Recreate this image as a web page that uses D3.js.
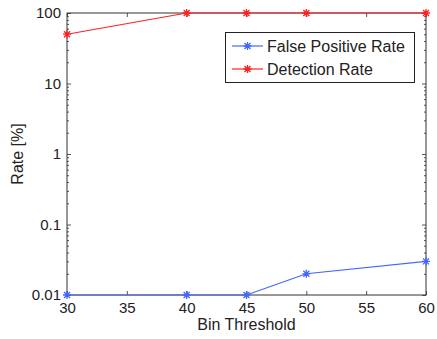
<!DOCTYPE html>
<html>
<head>
<meta charset="utf-8">
<script src="https://cdn.jsdelivr.net/npm/d3@7"></script>
<style>
  body { margin: 0; background: #fff; }
  text { font-family: "Liberation Sans", Arial, sans-serif; fill: #222; }
</style>
</head>
<body>
<div id="container"></div>
<script>
const thresholds = [30, 40, 45, 50, 60];
const falsePositiveRate = [0.01, 0.01, 0.01, 0.02, 0.03];
const detectionRate = [50, 100, 100, 100, 100];
const xTicks = [30, 35, 40, 45, 50, 55, 60];
const yTicks = [0.01, 0.1, 1, 10, 100];

const w = 437;
const h = 339;
const padL = 67, padR = 426, padT = 13, padB = 295;

const svg = d3.select("#container")
  .append("svg")
  .attr("width", w)
  .attr("height", h);

const xScale = d3.scaleLinear().domain([30, 60]).range([padL, padR]);
const yScale = d3.scaleLog().domain([0.01, 100]).range([padB, padT]);

// minor ticks for the log axis
const minor = [];
for (let p = -2; p < 2; p++) {
  for (let k = 2; k <= 9; k++) minor.push(k * Math.pow(10, p));
}

const fmt = (d) => String(d);

// axes, ticks drawn inward like matlab
svg.append("g")
  .attr("transform", "translate(0," + padB + ")")
  .call(d3.axisBottom(xScale).tickValues(xTicks).tickSize(-4).tickPadding(7).tickFormat(fmt))
  .call((g) => g.select(".domain").remove());
svg.append("g")
  .attr("transform", "translate(0," + padT + ")")
  .call(d3.axisTop(xScale).tickValues(xTicks).tickSize(-4).tickFormat(""))
  .call((g) => g.select(".domain").remove());
svg.append("g")
  .attr("transform", "translate(" + padL + ",0)")
  .call(d3.axisLeft(yScale).tickValues(yTicks).tickSize(-4).tickPadding(6).tickFormat(fmt))
  .call((g) => g.select(".domain").remove());
svg.append("g")
  .attr("transform", "translate(" + padR + ",0)")
  .call(d3.axisRight(yScale).tickValues(yTicks).tickSize(-4).tickFormat(""))
  .call((g) => g.select(".domain").remove());
svg.append("g")
  .attr("transform", "translate(" + padL + ",0)")
  .call(d3.axisLeft(yScale).tickValues(minor).tickSize(-2).tickFormat(""))
  .call((g) => g.select(".domain").remove());
svg.append("g")
  .attr("transform", "translate(" + padR + ",0)")
  .call(d3.axisRight(yScale).tickValues(minor).tickSize(-2).tickFormat(""))
  .call((g) => g.select(".domain").remove());

svg.selectAll(".tick text").style("font-size", "15px").attr("fill", "#222");
svg.selectAll(".tick line").attr("stroke", "#555");

svg.append("rect")
  .attr("x", padL).attr("y", padT)
  .attr("width", padR - padL).attr("height", padB - padT)
  .attr("fill", "none").attr("stroke", "#333").attr("stroke-width", 1);

const series = [
  { name: "False Positive Rate", values: falsePositiveRate, color: "#4466ff" },
  { name: "Detection Rate", values: detectionRate, color: "#ff2020" }
];

const line = d3.line()
  .x((d) => xScale(d[0]))
  .y((d) => yScale(d[1]));

function star(g, x, y, color) {
  const s = 4;
  const p = "M" + (x - s) + "," + y + "H" + (x + s) +
    "M" + x + "," + (y - s) + "V" + (y + s) +
    "M" + (x - s * 0.75) + "," + (y - s * 0.75) + "L" + (x + s * 0.75) + "," + (y + s * 0.75) +
    "M" + (x - s * 0.75) + "," + (y + s * 0.75) + "L" + (x + s * 0.75) + "," + (y - s * 0.75);
  g.append("path").attr("d", p).attr("stroke", color).attr("stroke-width", 1.3).attr("fill", "none");
}

series.forEach((s) => {
  const pts = thresholds.map((t, i) => [t, s.values[i]]);
  const g = svg.append("g");
  g.append("path")
    .attr("d", line(pts))
    .attr("fill", "none")
    .attr("stroke", s.color)
    .attr("stroke-width", 1.2);
  pts.forEach((d) => star(g, xScale(d[0]), yScale(d[1]), s.color));
});

// legend
const lg = svg.append("g");
lg.append("rect")
  .attr("x", 225.5).attr("y", 32.5)
  .attr("width", 189).attr("height", 50)
  .attr("fill", "#fff").attr("stroke", "#222");
series.forEach((s, i) => {
  const y = 46 + i * 23;
  lg.append("line").attr("x1", 232).attr("x2", 263).attr("y1", y).attr("y2", y)
    .attr("stroke", s.color).attr("stroke-width", 1.2);
  star(lg, 247.5, y, s.color);
  lg.append("text").attr("x", 267).attr("y", y + 5.5)
    .style("font-size", "16px").text(s.name);
});

svg.append("text")
  .attr("x", (padL + padR) / 2).attr("y", 330)
  .attr("text-anchor", "middle")
  .style("font-size", "16px")
  .text("Bin Threshold");

svg.append("text")
  .attr("transform", "translate(23," + ((padT + padB) / 2) + ") rotate(-90)")
  .attr("text-anchor", "middle")
  .style("font-size", "16px")
  .text("Rate [%]");
</script>
</body>
</html>
